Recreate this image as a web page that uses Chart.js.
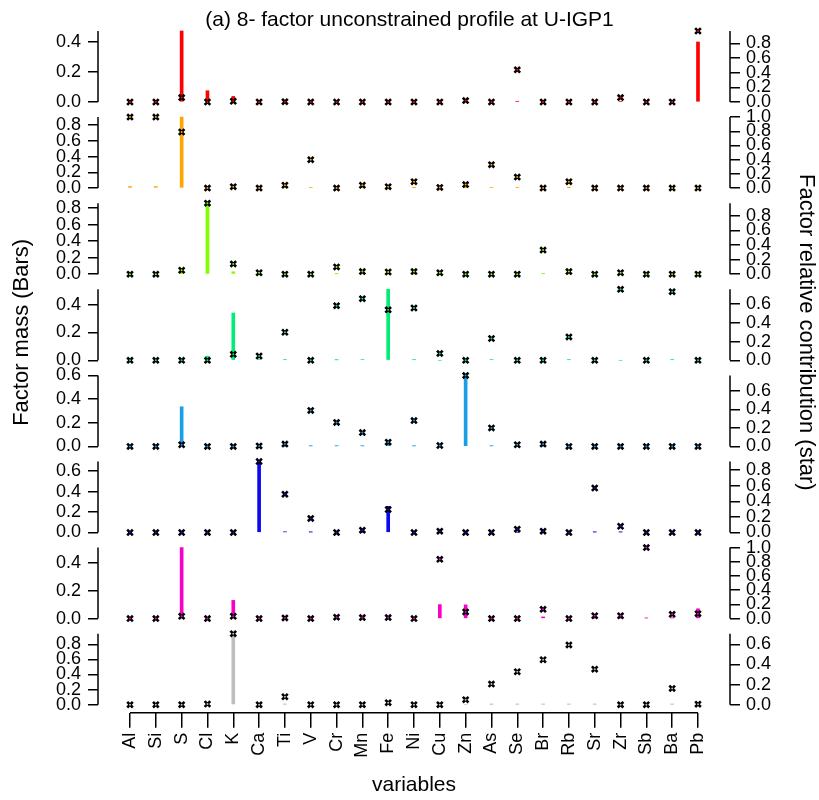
<!DOCTYPE html>
<html>
<head>
<meta charset="utf-8">
<title>8- factor unconstrained profile at U-IGP1</title>
<script src="https://cdn.jsdelivr.net/npm/chart.js@4.4.1/dist/chart.umd.min.js"></script>
<style>
  html, body { margin: 0; padding: 0; background: #fff; overflow: hidden; }
  canvas { display: block; }
</style>
</head>
<body>
<canvas id="profileChart" width="819" height="800"></canvas>
<script>
// Species on the x axis
const variables = ['Al', 'Si', 'S', 'Cl', 'K', 'Ca', 'Ti', 'V', 'Cr', 'Mn', 'Fe', 'Ni',
  'Cu', 'Zn', 'As', 'Se', 'Br', 'Rb', 'Sr', 'Zr', 'Sb', 'Ba', 'Pb'];

// Factor mass (bars, left axis), one array per factor
const mass1 = [0, 0, 0.473, 0.075, 0.037, 0, 0, 0, 0, 0, 0, 0, 0, 0.002, 0, 0.004, 0, 0, 0, 0.004, 0, 0, 0.40];
const mass2 = [0.02, 0.02, 0.90, 0, 0.01, 0, 0.005, 0.008, 0, 0.005, 0, 0.005, 0, 0.005, 0.008, 0.008, 0, 0.005, 0, 0, 0, 0, 0];
const mass3 = [0, 0, 0.04, 0.86, 0.03, 0, 0, 0, 0.005, 0.003, 0.003, 0.003, 0, 0, 0, 0, 0.006, 0.003, 0, 0, 0, 0, 0];
const mass4 = [0, 0, 0, 0.03, 0.34, 0.005, 0.004, 0, 0.003, 0.006, 0.51, 0.004, 0, 0, 0.004, 0, 0, 0.004, 0.003, 0, 0, 0.004, 0];
const mass5 = [0, 0, 0.335, 0, 0, 0, 0, 0.004, 0.004, 0.004, 0.03, 0.004, 0, 0.60, 0.004, 0, 0, 0, 0, 0, 0, 0, 0];
const mass6 = [0, 0, 0, 0, 0, 0.695, 0.006, 0.004, 0, 0, 0.256, 0, 0, 0, 0, 0, 0, 0, 0.004, 0.004, 0, 0, 0];
const mass7 = [0, 0, 0.507, 0, 0.13, 0, 0, 0, 0, 0, 0.004, 0, 0.10, 0.098, 0, 0, 0.012, 0, 0.003, 0.003, 0.004, 0.004, 0.07];
const mass8 = [0, 0, 0, 0, 0.94, 0, 0.005, 0, 0, 0, 0, 0, 0, 0, 0.004, 0.005, 0.005, 0.005, 0.005, 0, 0, 0.005, 0];

// Factor relative contribution (stars, right axis)
const contrib1 = [0, 0, 0.06, 0, 0.01, 0, 0.005, 0, 0, 0, 0, 0, 0, 0.02, 0, 0.44, 0, 0, 0, 0.06, 0, 0, 0.97];
const contrib2 = [1.0, 1.0, 0.79, 0, 0.02, 0, 0.04, 0.40, 0, 0.04, 0.02, 0.09, 0.01, 0.05, 0.33, 0.155, 0, 0.09, 0, 0, 0, 0, 0];
const contrib3 = [0, 0, 0.054, 0.97, 0.14, 0.02, 0, 0, 0.10, 0.036, 0.03, 0.036, 0.02, 0, 0, 0, 0.33, 0.036, 0, 0.02, 0, 0, 0];
const contrib4 = [0, 0, 0, 0, 0.064, 0.046, 0.30, 0, 0.585, 0.66, 0.54, 0.56, 0.074, 0, 0.233, 0, 0, 0.25, 0, 0.76, 0, 0.735, 0];
const contrib5 = [0, 0, 0.018, 0, 0, 0.005, 0.025, 0.39, 0.26, 0.15, 0.046, 0.28, 0.01, 0.77, 0.20, 0.018, 0.025, 0, 0, 0, 0, 0, 0];
const contrib6 = [0, 0, 0, 0, 0, 0.91, 0.49, 0.18, 0, 0.03, 0.295, 0, 0.017, 0, 0, 0.043, 0.017, 0, 0.57, 0.08, 0, 0, 0];
const contrib7 = [0, 0, 0.033, 0, 0.033, 0, 0.01, 0, 0.02, 0.015, 0.015, 0, 0.835, 0.094, 0, 0, 0.13, 0, 0.04, 0.04, 1.0, 0.06, 0.07];
const contrib8 = [0, 0, 0, 0.007, 0.705, 0, 0.079, 0, 0, 0, 0.02, 0, 0, 0.05, 0.205, 0.327, 0.446, 0.594, 0.353, 0, 0, 0.162, 0.005];

// Tick labels
const ticks04 = [0, 0.2, 0.4];
const ticks06 = [0, 0.2, 0.4, 0.6];
const ticks08 = [0, 0.2, 0.4, 0.6, 0.8];
const ticks10 = [0, 0.2, 0.4, 0.6, 0.8, 1.0];

const massSeries = [mass1, mass2, mass3, mass4, mass5, mass6, mass7, mass8];
const contribSeries = [contrib1, contrib2, contrib3, contrib4, contrib5, contrib6, contrib7, contrib8];
const massTicks = [ticks04, ticks08, ticks08, ticks04, ticks06, ticks06, ticks04, ticks08];
const contribTicks = [ticks08, ticks10, ticks08, ticks06, ticks06, ticks08, ticks10, ticks06];

const factorColors = ['#ff0000', '#ffa500', '#7fff00', '#00ee76', '#1a9fe6', '#0a0af0', '#f700c8', '#bebebe'];

// Panel geometry (pixels)
const PANEL_PX = 71;
const GAP_PX = 15.1;
const LAST_GAP_PX = 8;
const FONT = "'Liberation Sans', Arial, sans-serif";
const tickFont = { family: FONT, size: 18 };
const titleFont = { family: FONT, size: 21, lineHeight: 1.2 };
const sideTitleFont = { family: FONT, size: 22, lineHeight: 1.2 };

// One y axis per panel and side
function panelAxis(i, side) {
  const isLeft = side === 'left';
  const values = isLeft ? massSeries[i] : contribSeries[i];
  const tickVals = isLeft ? massTicks[i] : contribTicks[i];
  const max = Math.max(...values);
  const gap = i === 7 ? LAST_GAP_PX : GAP_PX;
  const axis = {
    type: 'linear',
    axis: 'y',
    position: side,
    stack: side,
    stackWeight: PANEL_PX + gap,
    min: -max * gap / PANEL_PX,
    max: max,
    afterBuildTicks: s => { s.ticks = tickVals.map(v => ({ value: v })); },
    afterFit: s => { s.width = isLeft ? 98 : 89; },
    border: { display: false },
    grid: { drawOnChartArea: false, drawTicks: true, tickLength: 10, color: '#000', lineWidth: 1.5 },
    ticks: { autoSkip: false, padding: isLeft ? 7 : 6, color: '#000', font: tickFont, callback: v => v.toFixed(1) }
  };
  // Side titles hang on the fourth panel
  if (i === 3) {
    axis.title = {
      display: true,
      text: isLeft ? 'Factor mass (Bars)' : 'Factor relative contribution (star)',
      color: '#000',
      font: sideTitleFont,
      padding: { top: isLeft ? 9 : 0, bottom: 0 }
    };
  }
  return axis;
}

// Axis lines run from 0 to the top of each panel, x line from first to last species
const axisLines = {
  id: 'axisLines',
  afterDraw(chart) {
    const ctx = chart.ctx;
    ctx.save();
    ctx.strokeStyle = '#000';
    ctx.lineWidth = 1.5;
    Object.values(chart.scales).forEach(s => {
      ctx.beginPath();
      if (s.id === 'x') {
        ctx.moveTo(s.getPixelForValue(0), s.top);
        ctx.lineTo(s.getPixelForValue(variables.length - 1), s.top);
      } else {
        const x = s.position === 'left' ? s.right : s.left;
        ctx.moveTo(x, s.getPixelForValue(0));
        ctx.lineTo(x, s.getPixelForValue(s.max));
      }
      ctx.stroke();
    });
    ctx.restore();
  }
};

const scales = {
  x: {
    type: 'linear',
    position: 'bottom',
    offset: false,
    min: -1.24,
    max: variables.length - 1 + 1.24,
    afterBuildTicks: s => { s.ticks = variables.map((_, i) => ({ value: i })); },
    afterFit: s => { s.height = 87.3; },
    border: { display: false },
    grid: { offset: false, drawOnChartArea: false, drawTicks: true, tickLength: 15, color: '#000', lineWidth: 1.5 },
    ticks: {
      autoSkip: false, maxRotation: 90, minRotation: 90, padding: 5,
      color: '#000', font: tickFont,
      callback: v => variables[Math.round(v)]
    },
    title: { display: true, text: 'variables', color: '#000', font: titleFont, padding: { top: 0, bottom: 2 } }
  }
};
// Left stack is laid out in reverse order, right stack in order
for (let i = 7; i >= 0; i--) scales['L' + (i + 1)] = panelAxis(i, 'left');
for (let i = 0; i < 8; i++) scales['R' + (i + 1)] = panelAxis(i, 'right');

const datasets = [];
for (let i = 0; i < 8; i++) {
  const points = contribSeries[i].map((v, j) => ({ x: j, y: v }));
  datasets.push({
    type: 'bar',
    label: 'mass ' + (i + 1),
    data: massSeries[i].map((v, j) => ({ x: j, y: v })),
    yAxisID: 'L' + (i + 1),
    backgroundColor: factorColors[i],
    borderWidth: 0,
    barThickness: 3,
    grouped: false,
    clip: false,
    order: 3
  });
  datasets.push({
    type: 'scatter',
    label: 'contribution ' + (i + 1),
    data: points,
    yAxisID: 'R' + (i + 1),
    pointStyle: 'crossRot',
    pointRadius: 4,
    borderColor: '#000',
    backgroundColor: '#000',
    borderWidth: 2.6,
    clip: false,
    order: 2
  });
  // coloured centre of each star
  datasets.push({
    type: 'scatter',
    label: 'centre ' + (i + 1),
    data: points,
    yAxisID: 'R' + (i + 1),
    pointStyle: 'circle',
    pointRadius: 1,
    borderWidth: 0,
    backgroundColor: factorColors[i],
    clip: false,
    order: 1
  });
}

new Chart(document.getElementById('profileChart'), {
  type: 'bar',
  data: { datasets },
  options: {
    responsive: false,
    animation: false,
    events: [],
    layout: { padding: 0 },
    scales,
    plugins: {
      legend: { display: false },
      tooltip: { enabled: false },
      title: {
        display: true,
        text: '(a) 8- factor unconstrained profile at U-IGP1',
        color: '#000',
        font: { family: FONT, size: 21, weight: 'normal', lineHeight: 1 },
        padding: { top: 10, bottom: 0 }
      }
    }
  },
  plugins: [axisLines]
});
</script>
</body>
</html>
